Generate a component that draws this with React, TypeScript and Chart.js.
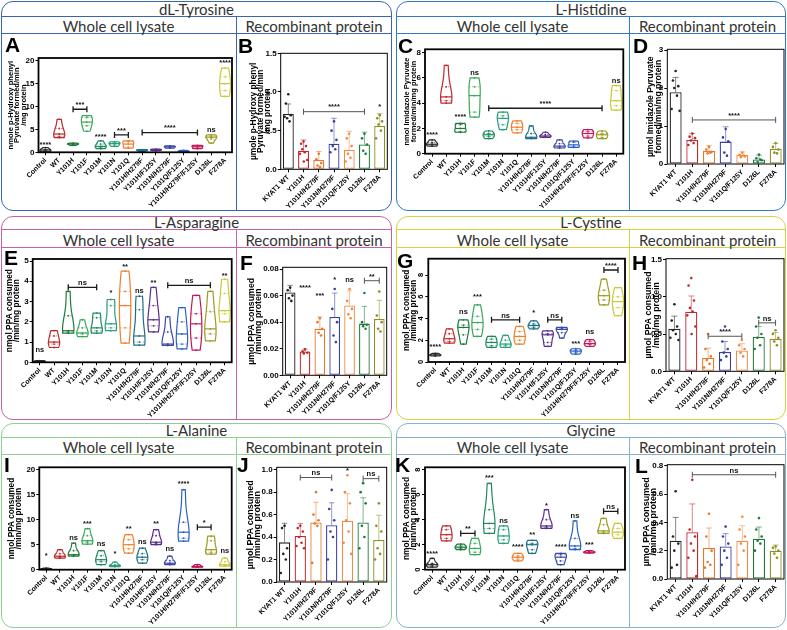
import React, { useEffect, useRef } from 'react';
import { Chart, registerables } from 'chart.js';

Chart.register(...registerables);

const FONT = "'Liberation Sans', Arial, Helvetica, sans-serif";
const HEAD_FONT = "Lato, 'Open Sans', sans-serif";
Chart.defaults.font.family = FONT;

type Ann = { from: number; to: number; y: number; text: string };
type Rect = { l: number; t: number; r: number; b: number };

// ---------------- categories ----------------
const VIOLIN_CATEGORIES = ['Control', 'WT', 'Y101H', 'Y101F', 'Y101M', 'Y101N', 'Y101Q', 'Y101H/H279F', 'Y101H/F125Y', 'Y101N/H279F', 'Y101Q/F125Y', 'Y101H/H279F/F125Y', 'D126L', 'F278A'];
const BAR_CATEGORIES = ['KYAT1 WT', 'Y101H', 'Y101H/H279F', 'Y101N/H279F', 'Y101Q/F125Y', 'D126L', 'F278A'];

const VIOLIN_COLORS = ['#2b2b2b', '#c0282d', '#1f7a3c', '#3aa85a', '#1d8a5c', '#26a07a', '#f07e2c', '#1f6e88', '#5a2d8e', '#3b4aa6', '#2a62c2', '#c2185b', '#9c9b22', '#c9c93a'];
const BAR_COLORS = ['#222222', '#c0282d', '#e8782c', '#3a3f9e', '#f28a44', '#1f7a3a', '#8f8e25'];

// ---------------- A : dL-Tyrosine whole cell ----------------
const A_VALUES = [
  [0.1, 0.3, 0.5, 0.6, 1.0], [3.2, 3.5, 4.0, 5.2, 7.2], [1.5, 1.7, 1.8, 1.9, 2.0], [4.6, 5.8, 6.6, 7.6, 8.0],
  [0.8, 1.1, 1.3, 1.8, 2.5], [1.3, 1.6, 1.9, 2.1, 2.3], [0.9, 1.1, 1.8, 2.3, 2.5], [0.2, 0.35, 0.45, 0.5, 0.6],
  [0.35, 0.45, 0.55, 0.6, 0.7], [0.9, 1.0, 1.2, 1.3, 1.4], [0.05, 0.15, 0.2, 0.3, 0.4], [0.8, 0.9, 1.2, 1.4, 1.5],
  [2.0, 2.9, 3.3, 3.5, 3.8], [12.2, 13.5, 15.0, 16.5, 18.4],
];
const A_TICKS = [0, 5, 10, 15, 20];
const A_ANN: Ann[] = [
  { from: 0, to: 0, y: 1.6, text: '****' }, { from: 2, to: 3, y: 9.4, text: '***' }, { from: 4, to: 4, y: 3.4, text: '****' },
  { from: 5, to: 6, y: 3.8, text: '***' }, { from: 7, to: 11, y: 4.3, text: '****' }, { from: 12, to: 12, y: 4.9, text: 'ns' },
  { from: 13, to: 13, y: 19.6, text: '****' },
];

// ---------------- B : dL-Tyrosine recombinant ----------------
const B_MEANS = [0.715, 0.24, 0.12, 0.33, 0.25, 0.32, 0.56];
const B_SD = [0.13, 0.14, 0.11, 0.33, 0.24, 0.16, 0.16];
const B_POINTS = [
  [0.97, 0.85, 0.7, 0.66, 0.62, 0.68], [0.36, 0.33, 0.3, 0.26, 0.22, 0.2, 0.12, 0.1], [0.2, 0.13, 0.08, 0.05, 0.03],
  [0.62, 0.5, 0.38, 0.3, 0.26, 0.22], [0.46, 0.4, 0.3, 0.2, 0.15, 0.1], [0.46, 0.4, 0.32, 0.24, 0.2], [0.7, 0.66, 0.62, 0.58, 0.5, 0.4],
];
const B_TICKS = [0, 0.5, 1.0, 1.5];
const B_ANN: Ann[] = [{ from: 1, to: 5, y: 0.745, text: '****' }, { from: 6, to: 6, y: 0.8, text: '*' }];

// ---------------- C : L-Histidine whole cell ----------------
const C_VALUES = [
  [0.6, 0.7, 0.75, 0.9, 1.1], [4.0, 4.2, 4.5, 5.3, 7.0], [1.7, 1.75, 2.0, 2.3, 2.4], [2.9, 3.3, 4.6, 5.3, 6.0],
  [1.2, 1.35, 1.5, 1.6, 1.8], [1.9, 2.3, 2.8, 3.0, 3.3], [1.65, 1.9, 2.1, 2.4, 2.6], [1.2, 1.25, 1.3, 1.6, 2.2],
  [1.3, 1.35, 1.4, 1.5, 1.7], [0.45, 0.5, 0.6, 0.8, 1.1], [0.5, 0.55, 0.7, 0.9, 1.0], [1.25, 1.4, 1.6, 1.75, 1.9],
  [1.2, 1.3, 1.5, 1.6, 1.8], [3.45, 3.8, 4.2, 5.0, 5.4],
];
const C_TICKS = [0, 2, 4, 6, 8];
const C_ANN: Ann[] = [
  { from: 0, to: 0, y: 1.5, text: '****' }, { from: 2, to: 2, y: 2.9, text: '****' }, { from: 3, to: 3, y: 6.4, text: 'ns' },
  { from: 4, to: 12, y: 3.6, text: '****' }, { from: 13, to: 13, y: 5.8, text: 'ns' },
];

// ---------------- D : L-Histidine recombinant ----------------
const D_MEANS = [1.89, 0.63, 0.35, 0.59, 0.24, 0.12, 0.4];
const D_SD = [0.39, 0.17, 0.13, 0.39, 0.08, 0.11, 0.14];
const D_POINTS = [
  [2.45, 2.2, 2.05, 2.0, 1.8, 1.45, 1.4], [0.8, 0.72, 0.68, 0.62, 0.55, 0.5], [0.45, 0.38, 0.32, 0.28, 0.3],
  [0.92, 0.7, 0.6, 0.3, 0.22], [0.3, 0.24, 0.2, 0.18, 0.22], [0.25, 0.15, 0.1, 0.05, 0.12], [0.55, 0.45, 0.38, 0.3, 0.28],
];
const D_TICKS = [0, 1, 2, 3];
const D_ANN: Ann[] = [{ from: 1, to: 6, y: 1.16, text: '****' }];

// ---------------- E : L-Asparagine whole cell ----------------
const E_VALUES = [
  [0.0, 0.02, 0.04, 0.06, 0.08], [0.73, 0.9, 1.0, 1.3, 1.56], [1.44, 1.5, 1.56, 2.3, 3.5], [1.27, 1.4, 1.45, 1.7, 2.1],
  [1.44, 1.55, 1.7, 2.2, 2.43], [1.56, 1.7, 1.9, 2.8, 3.1], [0.95, 1.7, 2.8, 3.5, 4.5], [0.85, 1.0, 1.3, 2.6, 3.26],
  [1.5, 1.8, 2.1, 2.8, 3.7], [0.83, 0.88, 0.9, 1.5, 2.25], [0.66, 0.9, 1.4, 2.0, 2.7], [0.6, 1.2, 1.9, 2.4, 3.3],
  [1.06, 1.4, 1.65, 2.5, 3.5], [2.0, 2.4, 2.55, 3.4, 4.1],
];
const E_TICKS = [0, 1, 2, 3, 4, 5];
const E_ANN: Ann[] = [
  { from: 0, to: 0, y: 0.6, text: 'ns' }, { from: 2, to: 4, y: 3.7, text: 'ns' }, { from: 5, to: 5, y: 3.4, text: '*' },
  { from: 6, to: 6, y: 4.7, text: '**' }, { from: 7, to: 7, y: 3.5, text: 'ns' }, { from: 8, to: 8, y: 3.9, text: '**' },
  { from: 9, to: 12, y: 3.8, text: 'ns' }, { from: 13, to: 13, y: 4.25, text: '**' },
];

// ---------------- F : L-Asparagine recombinant ----------------
const F_MEANS = [0.0624, 0.018, 0.035, 0.0439, 0.0526, 0.0389, 0.0424];
const F_SD = [0.0053, 0.0018, 0.009, 0.018, 0.011, 0.013, 0.014];
const F_POINTS = [
  [0.066, 0.064, 0.06, 0.058, 0.056], [0.0195, 0.018, 0.017, 0.0165], [0.043, 0.04, 0.035, 0.032, 0.03],
  [0.065, 0.05, 0.04, 0.03, 0.025], [0.065, 0.056, 0.05, 0.046, 0.043], [0.062, 0.04, 0.038, 0.037, 0.035], [0.063, 0.045, 0.04, 0.035, 0.033],
];
const F_TICKS = [0, 0.02, 0.04, 0.06, 0.08];
const F_ANN: Ann[] = [
  { from: 1, to: 1, y: 0.0657, text: '****' }, { from: 2, to: 2, y: 0.0594, text: '***' }, { from: 3, to: 3, y: 0.072, text: '*' },
  { from: 4, to: 4, y: 0.072, text: 'ns' }, { from: 5, to: 6, y: 0.0712, text: '**' },
];

// ---------------- G : L-Cystine whole cell ----------------
const G_VALUES = [
  [0.55, 0.6, 0.65, 0.7, 0.8], [1.74, 1.9, 2.14, 2.6, 3.05], [1.65, 2.5, 3.18, 3.4, 3.88], [2.35, 3.0, 3.63, 4.2, 5.25],
  [1.34, 1.5, 1.8, 2.1, 2.35], [1.34, 1.5, 1.65, 2.0, 2.44], [1.65, 2.0, 2.35, 2.8, 3.27], [3.05, 3.2, 3.36, 3.5, 3.79],
  [1.44, 1.8, 2.5, 2.6, 2.87], [2.2, 2.7, 3.0, 3.1, 3.18], [0.73, 0.85, 1.0, 1.1, 1.22], [1.44, 1.6, 1.7, 1.9, 2.05],
  [5.25, 5.7, 6.1, 6.6, 7.63], [4.27, 5.0, 5.56, 6.0, 6.84],
];
const G_TICKS = [0, 2, 4, 6, 8];
const G_ANN: Ann[] = [
  { from: 0, to: 0, y: 1.34, text: '****' }, { from: 2, to: 2, y: 4.58, text: 'ns' }, { from: 3, to: 3, y: 6.0, text: '***' },
  { from: 4, to: 6, y: 3.88, text: 'ns' }, { from: 7, to: 7, y: 4.49, text: '*' }, { from: 8, to: 9, y: 3.88, text: 'ns' },
  { from: 10, to: 10, y: 1.65, text: '***' }, { from: 11, to: 11, y: 2.75, text: 'ns' }, { from: 12, to: 13, y: 8.46, text: '****' },
];

// ---------------- H : L-Cystine recombinant ----------------
const H_MEANS = [0.57, 0.8, 0.18, 0.26, 0.28, 0.46, 0.435];
const H_SD = [0.17, 0.21, 0.13, 0.14, 0.09, 0.14, 0.085];
const H_POINTS = [
  [0.9, 0.68, 0.6, 0.55, 0.5, 0.45, 0.42], [1.25, 1.15, 0.95, 0.85, 0.8, 0.75, 0.6, 0.5], [0.5, 0.3, 0.2, 0.15, 0.1, 0.05],
  [0.6, 0.4, 0.3, 0.25, 0.2, 0.15], [0.42, 0.35, 0.3, 0.25, 0.2], [0.72, 0.6, 0.5, 0.45, 0.35, 0.3], [0.55, 0.5, 0.45, 0.4, 0.35],
];
const H_TICKS = [0, 0.5, 1.0, 1.5];
const H_ANN: Ann[] = [{ from: 2, to: 4, y: 0.47, text: '****' }, { from: 5, to: 6, y: 0.65, text: 'ns' }];

// ---------------- I : L-Alanine whole cell ----------------
const I_VALUES = [
  [0.05, 0.1, 0.15, 0.2, 0.3], [2.3, 2.5, 2.7, 3.2, 4.0], [2.7, 2.9, 3.0, 3.8, 5.3], [5.1, 5.5, 5.8, 6.8, 8.2],
  [1.0, 1.6, 2.0, 2.8, 3.8], [0.6, 0.7, 0.8, 1.0, 1.5], [3.3, 4.2, 5.0, 6.0, 7.0], [1.3, 2.0, 2.5, 3.2, 4.3],
  [5.0, 5.3, 5.5, 6.8, 8.0], [1.0, 1.2, 1.3, 1.8, 2.7], [5.7, 6.3, 7.5, 9.5, 16.0], [0.5, 0.55, 0.6, 0.8, 1.0],
  [3.1, 3.5, 4.0, 5.8, 6.7], [0.7, 0.8, 1.0, 1.6, 2.3],
];
const I_TICKS = [0, 5, 10, 15, 20];
const I_ANN: Ann[] = [
  { from: 0, to: 0, y: 2.7, text: '*' }, { from: 2, to: 2, y: 6.3, text: 'ns' }, { from: 3, to: 3, y: 9.1, text: '***' },
  { from: 4, to: 4, y: 5.1, text: 'ns' }, { from: 5, to: 5, y: 3.1, text: '*' }, { from: 6, to: 6, y: 8.2, text: '**' },
  { from: 7, to: 7, y: 5.5, text: 'ns' }, { from: 8, to: 8, y: 9.1, text: '**' }, { from: 9, to: 9, y: 4.2, text: 'ns' },
  { from: 10, to: 10, y: 17.2, text: '****' }, { from: 11, to: 12, y: 8.5, text: '*' }, { from: 13, to: 13, y: 3.7, text: 'ns' },
];

// ---------------- J : L-Alanine recombinant ----------------
const J_MEANS = [0.353, 0.41, 0.53, 0.505, 0.546, 0.53, 0.374];
const J_SD = [0.17, 0.11, 0.18, 0.2, 0.24, 0.22, 0.22];
const J_POINTS = [
  [0.5, 0.48, 0.3, 0.25, 0.2, 0.08], [0.5, 0.48, 0.45, 0.4, 0.35, 0.32, 0.3], [0.8, 0.6, 0.55, 0.52, 0.5, 0.17],
  [0.82, 0.65, 0.55, 0.45, 0.4, 0.2], [0.95, 0.8, 0.7, 0.55, 0.45, 0.35, 0.25], [0.88, 0.8, 0.7, 0.5, 0.4, 0.3], [0.7, 0.5, 0.45, 0.3, 0.25, 0.2],
];
const J_TICKS = [0, 0.2, 0.4, 0.6, 0.8, 1.0];
const J_ANN: Ann[] = [{ from: 1, to: 3, y: 0.93, text: 'ns' }, { from: 4, to: 4, y: 0.985, text: '*' }, { from: 5, to: 6, y: 0.92, text: 'ns' }];

// ---------------- K : Glycine whole cell ----------------
const K_VALUES = [
  [0.2, 0.3, 0.4, 0.5, 0.9], [2.3, 2.5, 2.8, 3.2, 3.5], [1.6, 1.7, 1.8, 1.9, 2.05], [1.2, 1.4, 1.7, 2.1, 2.5],
  [2.9, 3.3, 3.7, 4.8, 6.9], [2.1, 2.4, 2.7, 3.2, 3.5], [0.7, 0.85, 1.0, 1.1, 1.3], [1.3, 1.6, 2.0, 2.1, 2.35],
  [3.3, 3.4, 3.5, 4.0, 4.8], [0.4, 0.7, 1.0, 1.2, 1.3], [1.6, 1.7, 1.9, 2.5, 3.9], [1.33, 1.38, 1.4, 1.45, 1.52],
  [2.9, 3.0, 3.1, 3.6, 4.1], [2.5, 2.8, 3.0, 3.3, 3.7],
];
const K_TICKS = [0, 2, 4, 6, 8];
const K_ANN: Ann[] = [
  { from: 0, to: 0, y: 1.3, text: '****' }, { from: 2, to: 3, y: 2.9, text: '**' }, { from: 4, to: 4, y: 7.3, text: '***' },
  { from: 5, to: 5, y: 3.87, text: 'ns' }, { from: 6, to: 6, y: 1.8, text: '****' }, { from: 7, to: 7, y: 2.8, text: '**' },
  { from: 8, to: 8, y: 5.07, text: '*' }, { from: 9, to: 9, y: 1.8, text: '****' }, { from: 10, to: 10, y: 4.27, text: 'ns' },
  { from: 11, to: 11, y: 2.0, text: '***' }, { from: 12, to: 13, y: 4.67, text: 'ns' },
];

// ---------------- L : Glycine recombinant ----------------
const L_MEANS = [0.27, 0.33, 0.22, 0.23, 0.27, 0.285, 0.2];
const L_SD = [0.165, 0.2, 0.14, 0.09, 0.106, 0.082, 0.04];
const L_POINTS = [
  [0.62, 0.3, 0.25, 0.2, 0.1, 0.08], [0.7, 0.35, 0.3, 0.25, 0.2, 0.15, 0.02], [0.46, 0.3, 0.2, 0.12, 0.1, 0.08],
  [0.37, 0.3, 0.25, 0.2, 0.15, 0.1], [0.44, 0.35, 0.3, 0.25, 0.2, 0.1], [0.43, 0.35, 0.3, 0.27, 0.25, 0.2], [0.23, 0.22, 0.2, 0.18, 0.15],
];
const L_TICKS = [0, 0.2, 0.4, 0.6, 0.8];
const L_ANN: Ann[] = [{ from: 1, to: 6, y: 0.736, text: 'ns' }];

// ---------------- axis titles ----------------
const TYR_WCL_TITLE = ['nmole p-Hydroxy phenyl', 'Pyruvate formed/min', '/mg protein'];
const TYR_REC_TITLE = ['µmole p-Hydroxy phenyl', 'Pyruvate formed/min', '/mg protein'];
const HIS_WCL_TITLE = ['nmol Imidazole Pyruvate', 'formed/min/mg protein'];
const HIS_REC_TITLE = ['µmol Imidazole Pyruvate', 'formed/min/mg protein'];
const PPA_WCL_TITLE = ['nmol PPA consumed', '/min/mg protein'];
const PPA_REC_TITLE = ['µmol PPA consumed', '/min/mg protein'];

// jitter offsets (in category units) for dot display in bar charts
const JITTER = [0, -0.16, 0.16, -0.08, 0.08, -0.24, 0.24, 0.02];

// ---------------- helpers ----------------
interface AxisSpec {
  canvas: Rect; plot: Rect; title: string[]; titleSize: number; titleGap: number; titleX: number;
  ticks: number[]; max: number; decimals: number; rotTicks?: boolean;
}

function profile(vals: number[]) {
  const s = [...vals].sort((a, b) => a - b);
  const lo = s[0];
  const hi = s[s.length - 1];
  const range = Math.max(hi - lo, 1e-9);
  const h = range * 0.3;
  const N = 36;
  const pts: { y: number; d: number }[] = [];
  let maxD = 0;
  for (let k = 0; k <= N; k++) {
    const y = lo + (range * k) / N;
    let d = 0;
    for (const v of s) {
      const z = (y - v) / h;
      d += Math.exp(-0.5 * z * z);
    }
    pts.push({ y, d });
    if (d > maxD) maxD = d;
  }
  return pts.map((p) => ({ y: p.y, w: Math.max(p.d / maxD, 0.07) }));
}

function quantile(s: number[], q: number) {
  const pos = (s.length - 1) * q;
  const b = Math.floor(pos);
  const r = pos - b;
  return s[b + 1] !== undefined ? s[b] + r * (s[b + 1] - s[b]) : s[b];
}

function widthAt(prof: { y: number; w: number }[], y: number) {
  for (let k = 0; k < prof.length - 1; k++) {
    const a = prof[k];
    const b = prof[k + 1];
    if (y >= a.y && y <= b.y) {
      const t = b.y === a.y ? 0 : (y - a.y) / (b.y - a.y);
      return a.w + t * (b.w - a.w);
    }
  }
  return prof[0].w;
}

function violinPlugin(values: number[][]) {
  return {
    id: 'violins',
    beforeDatasetsDraw(chart: any) {
      const { ctx } = chart;
      const xs = chart.scales.x;
      const ys = chart.scales.y;
      const step = Math.abs(xs.getPixelForValue(1) - xs.getPixelForValue(0));
      const half = step * 0.4;
      values.forEach((vals, i) => {
        const color = VIOLIN_COLORS[i];
        const cx = xs.getPixelForValue(i);
        const prof = profile(vals);
        ctx.save();
        ctx.beginPath();
        prof.forEach((p, k) => {
          const px = cx - p.w * half;
          const py = ys.getPixelForValue(p.y);
          if (k === 0) ctx.moveTo(px, py);
          else ctx.lineTo(px, py);
        });
        for (let k = prof.length - 1; k >= 0; k--) {
          const p = prof[k];
          ctx.lineTo(cx + p.w * half, ys.getPixelForValue(p.y));
        }
        ctx.closePath();
        ctx.fillStyle = 'rgba(255,255,255,0.85)';
        ctx.fill();
        ctx.strokeStyle = color;
        ctx.lineWidth = 1.2;
        ctx.stroke();
        const s = [...vals].sort((a, b) => a - b);
        const med = quantile(s, 0.5);
        const wm = widthAt(prof, med) * half;
        const ym = ys.getPixelForValue(med);
        ctx.lineWidth = 1.2;
        ctx.beginPath();
        ctx.moveTo(cx - wm, ym);
        ctx.lineTo(cx + wm, ym);
        ctx.stroke();
        ctx.lineWidth = 0.6;
        ctx.setLineDash([1.5, 1.5]);
        [0.25, 0.75].forEach((q) => {
          const v = quantile(s, q);
          const w = widthAt(prof, v) * half;
          const yq = ys.getPixelForValue(v);
          ctx.beginPath();
          ctx.moveTo(cx - w, yq);
          ctx.lineTo(cx + w, yq);
          ctx.stroke();
        });
        ctx.restore();
      });
    },
  };
}

function framePlugin(lw: number) {
  return {
    id: 'frame',
    afterDraw(chart: any) {
      const { ctx, chartArea: a } = chart;
      ctx.save();
      ctx.strokeStyle = '#000';
      ctx.lineWidth = lw;
      ctx.strokeRect(a.left, a.top, a.right - a.left, a.bottom - a.top);
      ctx.restore();
    },
  };
}

// draws y tick labels rotated by 90 degrees (as in the source panels G and K)
function rotTickPlugin(ticks: number[], decimals: number) {
  return {
    id: 'rotTicks',
    afterDraw(chart: any) {
      const { ctx, chartArea: a } = chart;
      const ys = chart.scales.y;
      ctx.save();
      ctx.font = `bold 7.5px ${FONT}`;
      ctx.fillStyle = '#000';
      ctx.textAlign = 'center';
      ctx.textBaseline = 'middle';
      ticks.forEach((v) => {
        const y = ys.getPixelForValue(v);
        ctx.save();
        ctx.translate(a.left - 7, y);
        ctx.rotate(-Math.PI / 2);
        ctx.fillText(Number(v).toFixed(decimals), 0, 0);
        ctx.restore();
      });
      ctx.restore();
    },
  };
}

function annPlugin(anns: Ann[], bracketColor: string, lw: number) {
  return {
    id: 'anns',
    afterDraw(chart: any) {
      const { ctx } = chart;
      const xs = chart.scales.x;
      const ys = chart.scales.y;
      ctx.save();
      ctx.font = `bold 7.5px ${FONT}`;
      ctx.fillStyle = '#111';
      ctx.textAlign = 'center';
      anns.forEach((a) => {
        const y = ys.getPixelForValue(a.y);
        const x1 = xs.getPixelForValue(a.from);
        const x2 = xs.getPixelForValue(a.to);
        if (a.from === a.to) {
          ctx.textBaseline = 'middle';
          ctx.fillText(a.text, x1, y);
        } else {
          ctx.strokeStyle = bracketColor;
          ctx.lineWidth = lw;
          ctx.beginPath();
          ctx.moveTo(x1, y);
          ctx.lineTo(x2, y);
          ctx.moveTo(x1, y - 3);
          ctx.lineTo(x1, y + 3);
          ctx.moveTo(x2, y - 3);
          ctx.lineTo(x2, y + 3);
          ctx.stroke();
          ctx.textBaseline = 'bottom';
          ctx.fillText(a.text, (x1 + x2) / 2, y - 0.5);
        }
      });
      ctx.restore();
    },
  };
}

function errorPlugin(means: number[], sds: number[]) {
  return {
    id: 'errbars',
    afterDatasetDraw(chart: any, args: any) {
      if (args.index !== 0) return;
      const ys = chart.scales.y;
      const meta = chart.getDatasetMeta(0);
      const ctx = chart.ctx;
      ctx.save();
      ctx.lineWidth = 1;
      ctx.globalAlpha = 0.55;
      meta.data.forEach((el: any, i: number) => {
        const x = el.x;
        const w = el.width;
        const y0 = ys.getPixelForValue(means[i]);
        const y1 = ys.getPixelForValue(means[i] + sds[i]);
        ctx.strokeStyle = BAR_COLORS[i];
        ctx.beginPath();
        ctx.moveTo(x, y0);
        ctx.lineTo(x, y1);
        ctx.moveTo(x - w * 0.25, y1);
        ctx.lineTo(x + w * 0.25, y1);
        ctx.stroke();
      });
      ctx.restore();
    },
  };
}

function baseOptions(cats: string[], s: AxisSpec) {
  const yW = s.plot.l - s.canvas.l;
  const xH = s.canvas.b - s.plot.b;
  const padTop = s.plot.t - s.canvas.t;
  const padRight = s.canvas.r - s.plot.r;
  const lh = s.titleGap / s.titleSize;
  const titlePad = s.titleX - s.canvas.l - s.titleGap / 2;
  const grid = { display: true, drawOnChartArea: false, drawTicks: true, tickLength: 3, color: '#000', lineWidth: 1, offset: false };
  return {
    responsive: false,
    animation: false,
    devicePixelRatio: 1,
    events: [],
    layout: { padding: { left: 0, top: padTop, right: padRight, bottom: 0 }, autoPadding: false },
    plugins: { legend: { display: false }, tooltip: { enabled: false }, title: { display: false } },
    scales: {
      x: {
        type: 'linear',
        min: -0.5,
        max: cats.length - 0.5,
        offset: false,
        afterBuildTicks: (sc: any) => { sc.ticks = cats.map((_, i) => ({ value: i })); },
        afterFit: (sc: any) => { sc.height = xH; },
        ticks: {
          autoSkip: false, minRotation: 45, maxRotation: 45, padding: 1, color: '#000',
          font: { size: 7, weight: 'bold', family: FONT },
          callback: (v: number) => cats[v] ?? '',
        },
        grid,
        border: { display: false },
      },
      y: {
        type: 'linear',
        min: 0,
        max: s.max,
        afterBuildTicks: (sc: any) => { sc.ticks = s.ticks.map((v) => ({ value: v })); },
        afterFit: (sc: any) => { sc.width = yW; },
        ticks: {
          display: !s.rotTicks,
          autoSkip: false, padding: 1, color: '#000',
          font: { size: 8, weight: 'bold', family: FONT },
          callback: (v: number) => Number(v).toFixed(s.decimals),
        },
        grid,
        border: { display: false },
        title: {
          display: true,
          text: s.title,
          color: '#000',
          font: { size: s.titleSize, weight: 'bold', lineHeight: lh, family: FONT },
          padding: { top: titlePad, bottom: 0 },
        },
      },
    },
  };
}

function violinChart(values: number[][], anns: Ann[], spec: AxisSpec) {
  const points: { x: number; y: number }[] = [];
  const pc: string[] = [];
  values.forEach((vals, i) => vals.forEach((v) => { points.push({ x: i, y: v }); pc.push(VIOLIN_COLORS[i]); }));
  const plugins: any[] = [violinPlugin(values), framePlugin(1.8), annPlugin(anns, '#1a1a1a', 1.3)];
  if (spec.rotTicks) plugins.push(rotTickPlugin(spec.ticks, spec.decimals));
  return {
    type: 'scatter',
    data: { datasets: [{ data: points, pointRadius: 0.9, pointBackgroundColor: pc, pointBorderWidth: 0, pointHoverRadius: 0 }] },
    options: baseOptions(VIOLIN_CATEGORIES, spec),
    plugins,
  };
}

function barChart(means: number[], sds: number[], pts: number[][], anns: Ann[], spec: AxisSpec) {
  const points: { x: number; y: number }[] = [];
  const pc: string[] = [];
  pts.forEach((vals, i) => vals.forEach((v, k) => { points.push({ x: i + JITTER[k % JITTER.length], y: v }); pc.push(BAR_COLORS[i]); }));
  return {
    type: 'bar',
    data: {
      datasets: [
        {
          type: 'bar', data: means.map((m, i) => ({ x: i, y: m })), backgroundColor: '#ffffff', borderColor: BAR_COLORS,
          borderWidth: 1.3, borderSkipped: false, barPercentage: 0.72, categoryPercentage: 1, order: 2,
        },
        { type: 'scatter', data: points, pointRadius: 1.3, pointBackgroundColor: pc, pointBorderWidth: 0, order: 1 },
      ],
    },
    options: baseOptions(BAR_CATEGORIES, spec),
    plugins: [errorPlugin(means, sds), framePlugin(1), annPlugin(anns, '#555', 1)],
  };
}

// ---------------- layout ----------------
const PANELS = [
  { title: 'dL-Tyrosine', color: '#3a62b5', x0: 1, x1: 392, xDiv: 236, y0: 1, yT: 16, yS: 33, y1: 211 },
  { title: 'L-Histidine', color: '#2e7cc8', x0: 396, x1: 786, xDiv: 629, y0: 1, yT: 16, yS: 33, y1: 211 },
  { title: 'L-Asparagine', color: '#c5629f', x0: 1, x1: 392, xDiv: 236, y0: 216, yT: 229, yS: 247, y1: 420 },
  { title: 'L-Cystine', color: '#d4d43c', x0: 396, x1: 786, xDiv: 629, y0: 216, yT: 229, yS: 247, y1: 420 },
  { title: 'L-Alanine', color: '#8fd08f', x0: 1, x1: 392, xDiv: 236, y0: 423, yT: 437, yS: 454, y1: 628 },
  { title: 'Glycine', color: '#86b3cb', x0: 396, x1: 786, xDiv: 629, y0: 423, yT: 437, yS: 454, y1: 628 },
];

const CHARTS: { key: string; letter: string; lx: number; ly: number; spec: AxisSpec; make: (s: AxisSpec) => any }[] = [
  { key: 'A', letter: 'A', lx: 5, ly: 37, spec: { canvas: { l: 2, t: 34, r: 235, b: 210 }, plot: { l: 38.5, t: 58, r: 232, b: 152.3 }, title: TYR_WCL_TITLE, titleSize: 7.6, titleGap: 6.7, titleX: 10.5, ticks: A_TICKS, max: 20.6, decimals: 0 }, make: (s) => violinChart(A_VALUES, A_ANN, s) },
  { key: 'B', letter: 'B', lx: 238, ly: 38, spec: { canvas: { l: 237, t: 34, r: 391, b: 210 }, plot: { l: 280.7, t: 53.3, r: 387.3, b: 169.3 }, title: TYR_REC_TITLE, titleSize: 8.4, titleGap: 6.9, titleX: 254, ticks: B_TICKS, max: 1.5, decimals: 1 }, make: (s) => barChart(B_MEANS, B_SD, B_POINTS, B_ANN, s) },
  { key: 'C', letter: 'C', lx: 398, ly: 38, spec: { canvas: { l: 397, t: 34, r: 628, b: 210 }, plot: { l: 425, t: 49.3, r: 623.3, b: 153.7 }, title: HIS_WCL_TITLE, titleSize: 7.5, titleGap: 7.4, titleX: 406.7, ticks: C_TICKS, max: 8.27, decimals: 0 }, make: (s) => violinChart(C_VALUES, C_ANN, s) },
  { key: 'D', letter: 'D', lx: 633, ly: 38, spec: { canvas: { l: 630, t: 34, r: 785, b: 210 }, plot: { l: 667.3, t: 49.3, r: 784, b: 164 }, title: HIS_REC_TITLE, titleSize: 8.6, titleGap: 7.7, titleX: 650.5, ticks: D_TICKS, max: 3.02, decimals: 0 }, make: (s) => barChart(D_MEANS, D_SD, D_POINTS, D_ANN, s) },
  { key: 'E', letter: 'E', lx: 4, ly: 250, spec: { canvas: { l: 2, t: 248, r: 235, b: 419 }, plot: { l: 32.7, t: 259, r: 231.7, b: 362.3 }, title: PPA_WCL_TITLE, titleSize: 8.4, titleGap: 7.5, titleX: 9.3, ticks: E_TICKS, max: 5.1, decimals: 0 }, make: (s) => violinChart(E_VALUES, E_ANN, s) },
  { key: 'F', letter: 'F', lx: 240, ly: 255, spec: { canvas: { l: 237, t: 248, r: 391, b: 419 }, plot: { l: 282.7, t: 267.3, r: 386.7, b: 375.3 }, title: PPA_REC_TITLE, titleSize: 8.8, titleGap: 7.1, titleX: 251.5, ticks: F_TICKS, max: 0.0813, decimals: 2 }, make: (s) => barChart(F_MEANS, F_SD, F_POINTS, F_ANN, s) },
  { key: 'G', letter: 'G', lx: 397, ly: 253, spec: { canvas: { l: 397, t: 248, r: 628, b: 419 }, plot: { l: 428.3, t: 258.7, r: 625, b: 362 }, title: PPA_WCL_TITLE, titleSize: 8.2, titleGap: 7.1, titleX: 406.7, ticks: G_TICKS, max: 9.5, decimals: 0, rotTicks: true }, make: (s) => violinChart(G_VALUES, G_ANN, s) },
  { key: 'H', letter: 'H', lx: 632, ly: 255, spec: { canvas: { l: 630, t: 248, r: 785, b: 419 }, plot: { l: 666, t: 258.7, r: 784, b: 371.3 }, title: PPA_REC_TITLE, titleSize: 8.8, titleGap: 7.3, titleX: 649, ticks: H_TICKS, max: 1.51, decimals: 1 }, make: (s) => barChart(H_MEANS, H_SD, H_POINTS, H_ANN, s) },
  { key: 'I', letter: 'I', lx: 4, ly: 457, spec: { canvas: { l: 2, t: 455, r: 235, b: 627 }, plot: { l: 39.3, t: 467.3, r: 231.7, b: 569.7 }, title: PPA_WCL_TITLE, titleSize: 8.2, titleGap: 7.4, titleX: 11.7, ticks: I_TICKS, max: 20.48, decimals: 0 }, make: (s) => violinChart(I_VALUES, I_ANN, s) },
  { key: 'J', letter: 'J', lx: 237, ly: 457, spec: { canvas: { l: 237, t: 455, r: 391, b: 627 }, plot: { l: 276.7, t: 467.3, r: 386.7, b: 582 }, title: PPA_REC_TITLE, titleSize: 9, titleGap: 7.3, titleX: 250.5, ticks: J_TICKS, max: 1.021, decimals: 1 }, make: (s) => barChart(J_MEANS, J_SD, J_POINTS, J_ANN, s) },
  { key: 'K', letter: 'K', lx: 395, ly: 457, spec: { canvas: { l: 397, t: 455, r: 628, b: 627 }, plot: { l: 425, t: 467.3, r: 625, b: 569.7 }, title: PPA_WCL_TITLE, titleSize: 8.4, titleGap: 7.1, titleX: 406.5, ticks: K_TICKS, max: 8.19, decimals: 0, rotTicks: true }, make: (s) => violinChart(K_VALUES, K_ANN, s) },
  { key: 'L', letter: 'L', lx: 635, ly: 458, spec: { canvas: { l: 630, t: 455, r: 785, b: 627 }, plot: { l: 667.3, t: 464.7, r: 784, b: 579 }, title: PPA_REC_TITLE, titleSize: 9, titleGap: 7.1, titleX: 646.5, ticks: L_TICKS, max: 0.807, decimals: 1 }, make: (s) => barChart(L_MEANS, L_SD, L_POINTS, L_ANN, s) },
];

function ChartCanvas({ spec, make }: { spec: AxisSpec; make: (s: AxisSpec) => any }) {
  const ref = useRef<HTMLCanvasElement | null>(null);
  useEffect(() => {
    if (!ref.current) return;
    const chart = new Chart(ref.current, make(spec) as any);
    return () => chart.destroy();
  }, []);
  const r = spec.canvas;
  const w = r.r - r.l;
  const h = r.b - r.t;
  return <canvas ref={ref} width={w} height={h} style={{ position: 'absolute', left: r.l, top: r.t, width: w, height: h }} />;
}

const HEAD_SIZE = 15;
const HEAD_ASC = 13.3;

function PanelFrame({ p }: { p: typeof PANELS[number] }) {
  const headStyle = (left: number, width: number, baseline: number): React.CSSProperties => ({
    position: 'absolute', left, width, top: baseline - HEAD_ASC, textAlign: 'center', fontFamily: HEAD_FONT,
    fontSize: HEAD_SIZE, lineHeight: `${HEAD_SIZE}px`, color: '#333', whiteSpace: 'nowrap',
  });
  return (
    <>
      <div style={{ position: 'absolute', left: p.x0, top: p.y0, width: p.x1 - p.x0, height: p.y1 - p.y0, border: `1.5px solid ${p.color}`, borderRadius: 12, boxSizing: 'border-box' }} />
      <div style={{ position: 'absolute', left: p.x0, top: p.yT, width: p.x1 - p.x0, height: 0, borderTop: `1.2px solid ${p.color}` }} />
      <div style={{ position: 'absolute', left: p.x0, top: p.yS, width: p.x1 - p.x0, height: 0, borderTop: `1.2px solid ${p.color}` }} />
      <div style={{ position: 'absolute', left: p.xDiv, top: p.yT, width: 0, height: p.y1 - p.yT, borderLeft: `1.2px solid ${p.color}` }} />
      <div style={headStyle(p.x0, p.x1 - p.x0, p.yT - 1.2)}>{p.title}</div>
      <div style={headStyle(p.x0, p.xDiv - p.x0, p.yS - 1.2)}>Whole cell lysate</div>
      <div style={headStyle(p.xDiv, p.x1 - p.xDiv, p.yS - 1.2)}>Recombinant protein</div>
    </>
  );
}

export default function App() {
  return (
    <div style={{ position: 'fixed', left: 0, top: 0, width: 787, height: 630, background: '#fff', overflow: 'hidden' }}>
      {PANELS.map((p) => <PanelFrame key={p.title} p={p} />)}
      {CHARTS.map((c) => <ChartCanvas key={c.key} spec={c.spec} make={c.make} />)}
      {CHARTS.map((c) => (
        <div key={'l' + c.key} style={{ position: 'absolute', left: c.lx, top: c.ly - 2.8, fontFamily: FONT, fontWeight: 'bold', fontSize: 21, lineHeight: '21px', color: '#000' }}>{c.letter}</div>
      ))}
    </div>
  );
}
